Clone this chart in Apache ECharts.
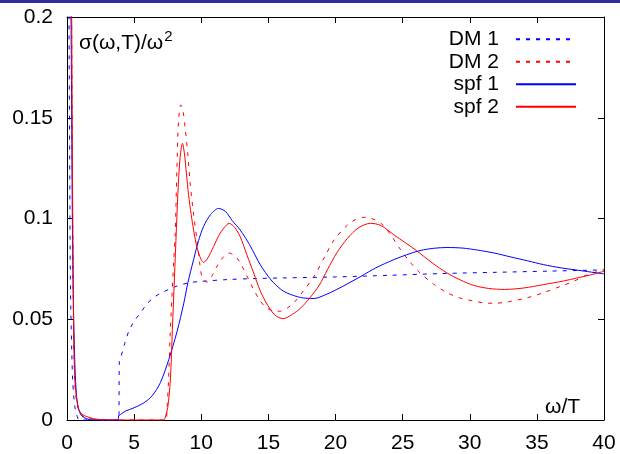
<!DOCTYPE html>
<html>
<head>
<meta charset="utf-8">
<script src="https://cdn.jsdelivr.net/npm/echarts@6/dist/echarts.min.js"></script>
<style>
html,body{margin:0;padding:0;background:#fff;}
#c{width:620px;height:454px;}
</style>
</head>
<body>
<div id="c"></div>
<script>
// ---- data ----
var seriesNames = ['DM 1', 'DM 2', 'spf 1', 'spf 2'];
var xTicks = [0, 5, 10, 15, 20, 25, 30, 35, 40];
var yTicks = [0, 0.05, 0.1, 0.15, 0.2];

var dm1X = [0.1, 0.15, 0.2, 0.25, 0.3, 0.35, 0.42, 0.5, 0.6, 0.7, 0.8, 0.9, 3.85, 3.9, 4.0, 4.3, 4.6, 5.0, 5.45, 6.0, 6.5, 7.0, 8.0, 9.0, 10, 12, 14, 16, 20, 24, 28, 32, 36, 40];
var dm1Y = [0.3, 0.2, 0.13, 0.07, 0.05, 0.035, 0.02, 0.012, 0.006, 0.003, 0.001, 0, 0, 0.029, 0.031, 0.038, 0.044, 0.049, 0.053, 0.058, 0.061, 0.063, 0.066, 0.068, 0.0688, 0.0697, 0.0702, 0.0705, 0.071, 0.0718, 0.0727, 0.0733, 0.0739, 0.0745];

var dm2X = [0.25, 0.35, 0.4, 0.45, 0.5, 0.6, 0.75, 1.0, 1.5, 2.0, 2.5, 7.35, 7.45, 7.56, 7.69, 7.81, 7.94, 8.06, 8.19, 8.31, 8.48, 8.65, 8.8, 9.0, 9.18, 9.43, 9.68, 9.9, 10.05, 10.4, 10.8, 11.17, 11.6, 12.04, 12.5, 12.9, 13.4, 13.9, 14.4, 14.9, 15.4, 15.9, 16.4, 16.9, 17.6, 18.4, 19.2, 19.9, 20.9, 21.5, 22.1, 22.7, 23.4, 24.1, 24.85, 25.6, 26.3, 27.3, 28.3, 29.3, 30.3, 31.0, 31.8, 33, 34.3, 35.5, 36.8, 37.8, 38.8, 40];
var dm2Y = [0.33, 0.19, 0.12, 0.075, 0.04, 0.017, 0.008, 0.003, 0.001, 0.0003, 0, 0, 0.006, 0.019, 0.0435, 0.06, 0.078, 0.0927, 0.1255, 0.1485, 0.1564, 0.153, 0.145, 0.132, 0.117, 0.102, 0.0894, 0.077, 0.0713, 0.0684, 0.0715, 0.0763, 0.0805, 0.0829, 0.0815, 0.078, 0.0715, 0.0648, 0.059, 0.0555, 0.0542, 0.054, 0.0555, 0.0582, 0.064, 0.0713, 0.081, 0.0894, 0.0968, 0.0995, 0.1006, 0.1, 0.0976, 0.092, 0.0845, 0.078, 0.073, 0.0675, 0.0632, 0.0605, 0.059, 0.0582, 0.0579, 0.0588, 0.0607, 0.0632, 0.0664, 0.069, 0.0722, 0.0746];

var spf1X = [0.2, 0.3, 0.35, 0.4, 0.45, 0.5, 0.6, 0.7, 0.8, 1.0, 1.2, 1.5, 2.0, 3.8, 3.85, 4.0, 4.35, 4.97, 5.72, 6.34, 6.96, 7.58, 8.2, 8.7, 9.0, 9.43, 9.8, 10.17, 10.7, 11.29, 11.8, 12.3, 12.9, 13.6, 14.4, 15.2, 15.9, 16.4, 17.4, 18.4, 19.2, 20.1, 21, 21.9, 23, 24.35, 25.3, 26.3, 27.3, 28.3, 29.5, 30.6, 31.8, 33, 34.3, 35.5, 36.8, 38.3, 40];
var spf1Y = [0.3, 0.2, 0.15, 0.1, 0.07, 0.05, 0.025, 0.013, 0.007, 0.003, 0.0015, 0.0005, 0, 0, 0.002, 0.0028, 0.0044, 0.006, 0.0085, 0.012, 0.0186, 0.03, 0.044, 0.058, 0.068, 0.0796, 0.089, 0.096, 0.102, 0.105, 0.1035, 0.099, 0.0943, 0.087, 0.077, 0.0695, 0.065, 0.063, 0.0608, 0.0603, 0.062, 0.0648, 0.068, 0.0713, 0.0755, 0.0796, 0.082, 0.0841, 0.0852, 0.0856, 0.0853, 0.0843, 0.0829, 0.081, 0.079, 0.0771, 0.0755, 0.0741, 0.0725];

var spf2X = [0.25, 0.35, 0.4, 0.45, 0.5, 0.55, 0.6, 0.72, 0.85, 0.97, 1.2, 1.47, 1.96, 2.5, 3.0, 7.2, 7.3, 7.5, 7.7, 7.85, 8.0, 8.15, 8.3, 8.45, 8.6, 8.75, 8.9, 9.05, 9.25, 9.43, 9.6, 9.8, 10.0, 10.17, 10.5, 10.92, 11.3, 11.67, 12.09, 12.5, 12.9, 13.4, 13.9, 14.4, 14.9, 15.5, 16.1, 16.8, 17.4, 18.1, 18.8, 19.4, 20.1, 20.9, 21.7, 22.6, 23.4, 24.35, 25.2, 26.1, 27.2, 28.3, 29.3, 30.3, 31.4, 32.6, 34, 35.5, 37, 38, 39, 40];
var spf2Y = [0.35, 0.2, 0.13, 0.08, 0.04, 0.027, 0.018, 0.0106, 0.006, 0.004, 0.0025, 0.0017, 0.0007, 0.0002, 0, 0, 0.001, 0.006, 0.02, 0.045, 0.07, 0.095, 0.118, 0.132, 0.1373, 0.132, 0.122, 0.112, 0.102, 0.0943, 0.088, 0.0829, 0.0795, 0.0782, 0.0805, 0.0861, 0.0915, 0.0952, 0.0976, 0.0955, 0.091, 0.082, 0.073, 0.064, 0.0575, 0.052, 0.0503, 0.0525, 0.0555, 0.0607, 0.067, 0.0746, 0.083, 0.0902, 0.0953, 0.0976, 0.0965, 0.0919, 0.088, 0.0837, 0.078, 0.073, 0.0695, 0.0668, 0.0653, 0.0648, 0.0655, 0.0672, 0.069, 0.0705, 0.072, 0.0738];

function pairs(xs, ys) { return xs.map(function (x, i) { return [x, ys[i]]; }); }

var FONT = '"Liberation Sans", Arial, Helvetica, sans-serif';
var FS = 21;
var chart = echarts.init(document.getElementById('c'), null, {renderer: 'canvas'});

var axisCommon = {
  axisLine: {show: true, onZero: false, lineStyle: {color: '#000', width: 1}},
  axisTick: {show: true, inside: true, length: 6, lineStyle: {color: '#000'}},
  splitLine: {show: false}
};

function mkX(pos, showLabels) {
  return Object.assign({}, axisCommon, {
    type: 'value', position: pos, min: xTicks[0], max: xTicks[xTicks.length - 1], interval: 5,
    axisLabel: {show: showLabels, color: '#000', fontSize: FS, fontFamily: FONT, margin: 13}
  });
}
function mkY(pos, showLabels) {
  return Object.assign({}, axisCommon, {
    type: 'value', position: pos, min: yTicks[0], max: yTicks[yTicks.length - 1], interval: 0.05,
    axisLabel: {show: showLabels, color: '#000', fontSize: FS, fontFamily: FONT, margin: 14,
      formatter: function (v) { return String(+v.toFixed(2)); }}
  });
}

var colors = ['#0000ff', '#ff0000', '#0000ff', '#ff0000'];
var datasets = [pairs(dm1X, dm1Y), pairs(dm2X, dm2Y), pairs(spf1X, spf1Y), pairs(spf2X, spf2Y)];
var dashed = [true, true, false, false];

var series = seriesNames.map(function (name, i) {
  return {
    name: name, type: 'line', data: datasets[i], showSymbol: false, symbol: 'none',
    smooth: 0.3, clip: true, animation: false,
    lineStyle: {color: colors[i], width: 1, type: dashed[i] ? [4, 6] : 'solid'},
    itemStyle: {color: 'rgba(0,0,0,0)', borderWidth: 0}
  };
});

chart.setOption({
  animation: false,
  backgroundColor: '#fff',
  grid: {left: 67, right: 16, top: 17, bottom: 33, containLabel: false},
  xAxis: [mkX('bottom', true), mkX('top', false)],
  yAxis: [mkY('left', true), mkY('right', false)],
  legend: {
    orient: 'vertical', right: 38, top: 23, align: 'right',
    itemWidth: 60, itemHeight: 12, itemGap: 0,
    data: seriesNames,
    itemStyle: {color: 'rgba(0,0,0,0)', borderWidth: 0},
    textStyle: {color: '#000', fontSize: FS, fontFamily: FONT, lineHeight: 22.5, padding: [0, 12, 0, 0]},
    selectedMode: false
  },
  title: {
    text: '{a|σ(ω,T)/ω}{b|2}', left: 74, top: 24,
    textStyle: {fontWeight: 'normal', rich: {
      a: {fontSize: FS, fontFamily: FONT, color: '#000', fontWeight: 'normal'},
      b: {fontSize: 15, fontFamily: FONT, color: '#000', fontWeight: 'normal', verticalAlign: 'bottom', padding: [0, 0, 13, 1]}
    }}
  },
  graphic: [
    {type: 'rect', left: 0, top: 0, shape: {width: 620, height: 3}, style: {fill: '#2e2e99'}, silent: true},
    {type: 'text', left: 545, top: 397, style: {text: 'ω/T', fontSize: FS, fontFamily: FONT, fill: '#000'}}
  ],
  series: series
});
</script>
</body>
</html>
